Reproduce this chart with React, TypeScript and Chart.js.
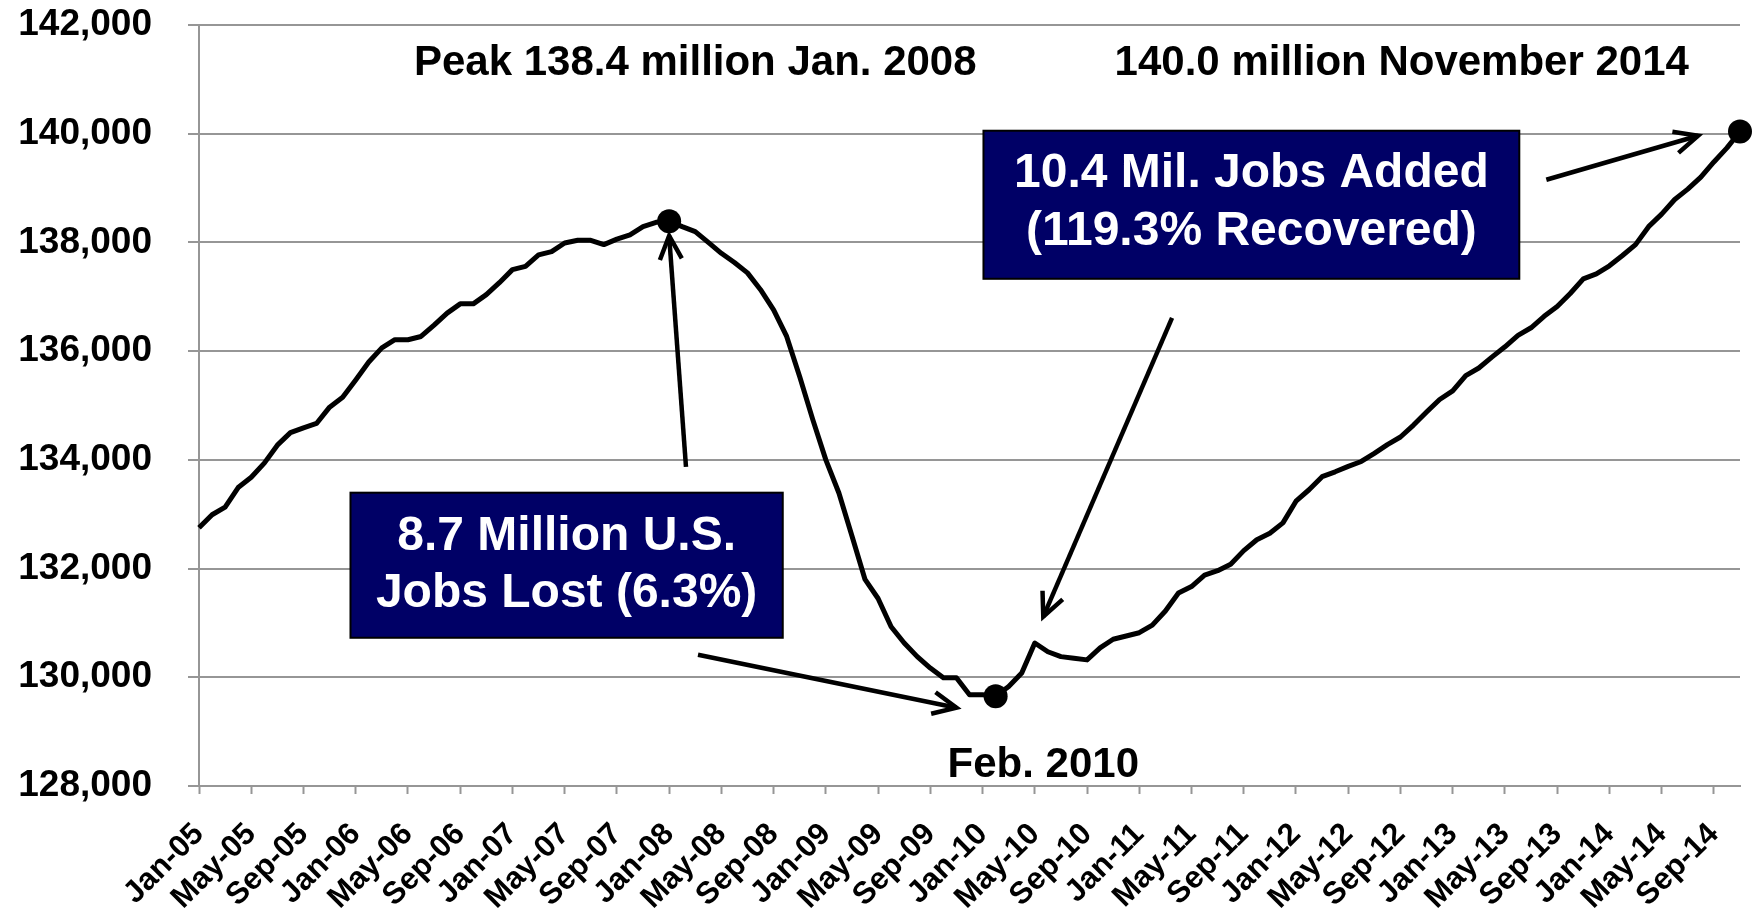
import React, { useEffect, useRef } from 'react';
import { Chart, registerables } from 'chart.js';

Chart.register(...registerables);

// ---- Data ----
const monthNames = ['Jan', 'Feb', 'Mar', 'Apr', 'May', 'Jun', 'Jul', 'Aug', 'Sep', 'Oct', 'Nov', 'Dec'];
const yearSuffixes = ['05', '06', '07', '08', '09', '10', '11', '12', '13', '14'];

const employment2005 = [132750, 132990, 133130, 133490, 133680, 133940, 134270, 134500, 134590, 134670, 134970, 135150];
const employment2006 = [135470, 135800, 136060, 136210, 136210, 136270, 136480, 136700, 136870, 136870, 137040, 137260];
const employment2007 = [137500, 137560, 137770, 137830, 137990, 138040, 138040, 137960, 138060, 138140, 138290, 138370];
const employment2008 = [138390, 138290, 138200, 138000, 137800, 137630, 137440, 137130, 136760, 136270, 135530, 134740];
const employment2009 = [134000, 133390, 132600, 131800, 131450, 130930, 130630, 130380, 130170, 129990, 129990, 129680];
const employment2010 = [129680, 129650, 129830, 130080, 130630, 130470, 130380, 130350, 130320, 130540, 130700, 130760];
const employment2011 = [130820, 130960, 131220, 131550, 131670, 131880, 131960, 132080, 132330, 132530, 132650, 132840];
const employment2012 = [133240, 133450, 133690, 133780, 133880, 133970, 134120, 134280, 134420, 134640, 134880, 135110];
const employment2013 = [135270, 135550, 135690, 135890, 136080, 136290, 136430, 136640, 136820, 137060, 137330, 137420];
const employment2014 = [137570, 137760, 137960, 138290, 138520, 138790, 138980, 139200, 139480, 139740, 140040];

const employmentValues = [
  ...employment2005, ...employment2006, ...employment2007, ...employment2008, ...employment2009,
  ...employment2010, ...employment2011, ...employment2012, ...employment2013, ...employment2014,
];

const categories: string[] = [];
yearSuffixes.forEach((yy) => monthNames.forEach((m) => categories.push(`${m}-${yy}`)));
categories.length = employmentValues.length;

const highlightedMonths = ['Jan-08', 'Feb-10', 'Nov-14'];
const yTickValues = [128000, 130000, 132000, 134000, 136000, 138000, 140000, 142000];
const labelEvery = 4;

// ---- Annotations (in data space: x = month index, y = employment) ----
const headlineTexts = [
  { text: 'Peak 138.4 million Jan. 2008', x: 38.0, y: 141085 },
  { text: '140.0 million November 2014', x: 92.1, y: 141085 },
  { text: 'Feb. 2010', x: 64.65, y: 128167 },
];
const calloutBoxes = [
  { lines: ['8.7 Million U.S.', 'Jobs Lost (6.3%)'], x0: 11.6, x1: 44.7, yTop: 133396, yBottom: 130727, baselines: [132347, 131298] },
  { lines: ['10.4 Mil. Jobs Added', '(119.3% Recovered)'], x0: 60.07, x1: 101.1, yTop: 140055, yBottom: 137331, baselines: [139024, 137957] },
];
const arrowLines = [
  { from: [37.29, 133872], to: [36.0, 138123] },
  { from: [38.21, 130415], to: [58.0, 129440] },
  { from: [74.51, 136614], to: [64.65, 131114] },
  { from: [103.17, 139153], to: [114.79, 139963] },
];

const FONT = "'Liberation Sans', Arial, Helvetica, sans-serif";
const GRID = '#969696';
const NAVY = '#000066';

function drawArrow(ctx: CanvasRenderingContext2D, x1: number, y1: number, x2: number, y2: number) {
  ctx.beginPath();
  ctx.moveTo(x1, y1);
  ctx.lineTo(x2, y2);
  ctx.stroke();
  const ang = Math.atan2(y2 - y1, x2 - x1);
  const L = 26;
  const a = (25 * Math.PI) / 180;
  ctx.beginPath();
  ctx.moveTo(x2 - L * Math.cos(ang - a), y2 - L * Math.sin(ang - a));
  ctx.lineTo(x2, y2);
  ctx.lineTo(x2 - L * Math.cos(ang + a), y2 - L * Math.sin(ang + a));
  ctx.stroke();
}

const annotationPlugin = {
  id: 'jobAnnotations',
  afterDatasetsDraw(chart: any) {
    const ctx: CanvasRenderingContext2D = chart.ctx;
    const xs = chart.scales.x;
    const ys = chart.scales.y;
    const px = (v: number) => xs.getPixelForValue(v);
    const py = (v: number) => ys.getPixelForValue(v);
    ctx.save();

    ctx.fillStyle = '#000';
    ctx.font = `bold 42px ${FONT}`;
    ctx.textAlign = 'center';
    ctx.textBaseline = 'alphabetic';
    headlineTexts.forEach((t) => ctx.fillText(t.text, px(t.x), py(t.y)));

    calloutBoxes.forEach((b) => {
      const l = px(b.x0), r = px(b.x1), t = py(b.yTop), bt = py(b.yBottom);
      ctx.fillStyle = NAVY;
      ctx.fillRect(l, t, r - l, bt - t);
      ctx.strokeStyle = '#000';
      ctx.lineWidth = 2;
      ctx.strokeRect(l, t, r - l, bt - t);
      ctx.fillStyle = '#fff';
      ctx.font = `bold 48px ${FONT}`;
      ctx.textAlign = 'center';
      b.lines.forEach((line, i) => ctx.fillText(line, (l + r) / 2, py(b.baselines[i])));
    });

    ctx.strokeStyle = '#000';
    ctx.lineWidth = 4.5;
    ctx.lineCap = 'butt';
    ctx.lineJoin = 'miter';
    arrowLines.forEach((a) => drawArrow(ctx, px(a.from[0]), py(a.from[1]), px(a.to[0]), py(a.to[1])));

    ctx.restore();
  },
};

export default function App() {
  const canvasRef = useRef<HTMLCanvasElement>(null);

  useEffect(() => {
    document.body.style.margin = '0';
    const canvas = canvasRef.current!;
    const chart = new Chart(canvas, {
      type: 'line',
      data: {
        labels: categories,
        datasets: [
          {
            data: employmentValues,
            borderColor: '#000',
            backgroundColor: '#000',
            borderWidth: 5,
            borderJoinStyle: 'round',
            tension: 0,
            clip: false as any,
            pointRadius: (c: any) => (highlightedMonths.includes(categories[c.dataIndex]) ? 12 : 0),
            pointHoverRadius: (c: any) => (highlightedMonths.includes(categories[c.dataIndex]) ? 12 : 0),
            pointBackgroundColor: '#000',
            pointBorderColor: '#000',
            pointBorderWidth: 0,
          },
        ],
      },
      options: {
        responsive: false,
        animation: false,
        devicePixelRatio: 1,
        layout: { padding: { top: 25, right: 12, left: 0, bottom: 0 } },
        plugins: {
          legend: { display: false },
          tooltip: { enabled: false },
          title: { display: false },
        },
        scales: {
          x: {
            type: 'category',
            offset: false,
            grid: {
              display: true,
              drawOnChartArea: false,
              drawTicks: true,
              tickLength: 8,
              tickWidth: 2,
              tickColor: (c: any) => (c.index % labelEvery === 0 ? GRID : 'rgba(0,0,0,0)'),
            },
            border: { display: true, color: GRID, width: 2 },
            ticks: {
              autoSkip: false,
              maxRotation: 45,
              minRotation: 45,
              padding: 22,
              color: '#000',
              font: { family: FONT, size: 31, weight: 'bold' },
              callback: (_v: any, idx: number) => (idx % labelEvery === 0 ? categories[idx] : ''),
            },
            afterFit: (scale: any) => {
              scale.height = 125;
              scale.paddingLeft = 0;
              scale.paddingRight = 0;
            },
          },
          y: {
            type: 'linear',
            min: yTickValues[0],
            max: yTickValues[yTickValues.length - 1],
            afterBuildTicks: (scale: any) => {
              scale.ticks = yTickValues.map((v) => ({ value: v }));
            },
            grid: {
              color: GRID,
              lineWidth: 2,
              tickLength: 11,
              drawTicks: true,
              tickColor: GRID,
            },
            border: { display: true, color: GRID, width: 2 },
            ticks: {
              color: '#000',
              padding: 36,
              font: { family: FONT, size: 37, weight: 'bold' },
              callback: (v: any) => Number(v).toLocaleString('en-US'),
            },
            afterFit: (scale: any) => {
              scale.width = 199;
              scale.paddingTop = 0;
              scale.paddingBottom = 0;
            },
          },
        },
      } as any,
      plugins: [annotationPlugin],
    });
    return () => chart.destroy();
  }, []);

  return (
    <div style={{ position: 'absolute', left: 0, top: 0, width: 1752, height: 911, background: '#fff' }}>
      <canvas ref={canvasRef} width={1752} height={911} style={{ display: 'block', width: 1752, height: 911 }} />
    </div>
  );
}
